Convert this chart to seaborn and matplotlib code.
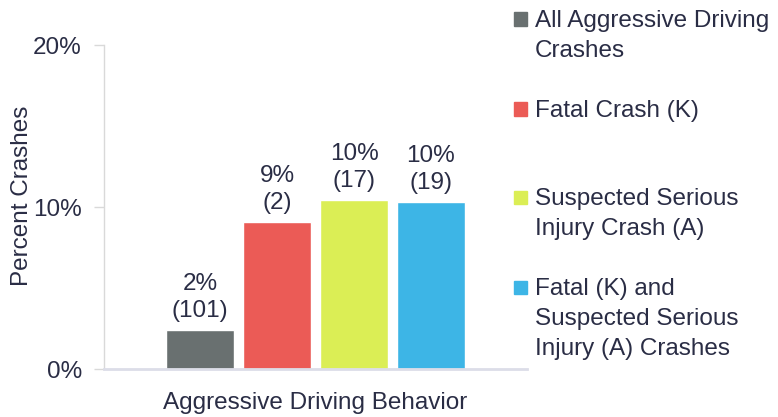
import matplotlib
matplotlib.use("Agg")
import matplotlib.pyplot as plt
from matplotlib.patches import Rectangle
import seaborn as sns
import pandas as pd

# Share of crashes by severity for aggressive driving behavior
category = ["Aggressive Driving Behavior"]
series = [
    "All Aggressive Driving\nCrashes",
    "Fatal Crash (K)",
    "Suspected Serious\nInjury Crash (A)",
    "Fatal (K) and\nSuspected Serious\nInjury (A) Crashes",
]
percent = [2.43, 9.09, 10.45, 10.33]
counts = [101, 2, 17, 19]
colors = ["#697070", "#eb5b56", "#dbee55", "#3db5e6"]
y_ticks = [0, 10, 20]

TEXT = "#2a2d45"
FS = 17.5

sns.set_theme(style="white")
plt.rcParams["font.family"] = ["Liberation Sans", "DejaVu Sans"]
plt.rcParams["text.color"] = TEXT

df = pd.DataFrame({
    "behavior": category * len(series),
    "series": series,
    "percent": percent,
})

fig = plt.figure(figsize=(7.78, 4.17), dpi=100)
ax = fig.add_axes([0.1337, 0.114, 0.5437, 0.778])

sns.barplot(data=df, x="behavior", y="percent", hue="series",
            hue_order=series, palette=colors, width=0.728, gap=0.12,
            legend=False, ax=ax, saturation=1)

ax.set_ylim(0, 20)
ax.set_xlim(-0.5, 0.5)
ax.set_yticks(y_ticks)
ax.set_yticklabels([f"{t}%" for t in y_ticks], fontsize=FS, color=TEXT)
ax.set_xticks([])
ax.set_xlabel(category[0], fontsize=FS, color=TEXT, labelpad=16)
ax.set_ylabel("Percent Crashes", fontsize=FS, color=TEXT)
ax.yaxis.set_label_coords(-0.168, 0.535)

ax.tick_params(axis="y", which="major", left=True, length=7, width=1,
               color="#d9d9d9", pad=9)
for side in ("top", "right"):
    ax.spines[side].set_visible(False)
ax.spines["left"].set_color("#d9d9d9")
ax.spines["left"].set_linewidth(1)
ax.spines["bottom"].set_color("#dcdde8")
ax.spines["bottom"].set_linewidth(2)

for cont, v, n in zip(ax.containers, percent, counts):
    ax.bar_label(cont, labels=[f"{v:.0f}%\n({n})"], padding=6,
                 fontsize=FS, color=TEXT, linespacing=1.25)

# Legend laid out in evenly spaced slots on the right
W, H = fig.get_size_inches() * fig.dpi
slot_tops = [19, 109, 197, 287]
LINE = 29.5
for lab, col, yc in zip(series, colors, slot_tops):
    fig.patches.append(Rectangle((514 / W, 1 - (yc + 6.5) / H), 13 / W, 13 / H,
                                 transform=fig.transFigure, color=col,
                                 figure=fig))
    for i, line in enumerate(lab.split("\n")):
        fig.text(535 / W, 1 - (yc + i * LINE) / H, line, fontsize=FS,
                 color=TEXT, va="center_baseline", ha="left")

fig.savefig("out.png", dpi=100)
